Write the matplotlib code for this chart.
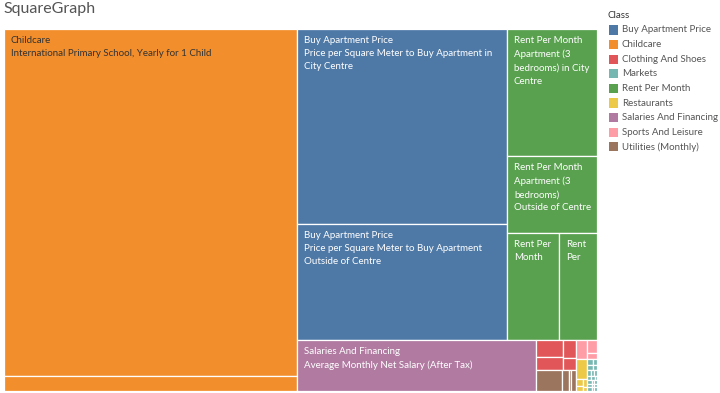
import matplotlib
matplotlib.use("Agg")
import matplotlib.pyplot as plt
from matplotlib.patches import Rectangle

plt.rcParams['font.family'] = ['Lato', 'DejaVu Sans']

W, H = 720, 393  # output size in px

# ---- data (USD-ish) ----
classes = ["Buy Apartment Price", "Childcare", "Clothing And Shoes", "Markets",
           "Rent Per Month", "Restaurants", "Salaries And Financing",
           "Sports And Leisure", "Utilities (Monthly)"]
class_colors = ["#4e79a7", "#f28e2b", "#e15759", "#76b7b2", "#59a14f",
                "#edc948", "#b07aa1", "#ff9da7", "#9c755f"]

childcare_items = ["International Primary School, Yearly for 1 Child",
                   "Preschool (or Kindergarten), Full Day, Private, Monthly for 1 Child"]
childcare_values = [20000, 870]

buy_items = ["Price per Square Meter to Buy Apartment in City Centre",
             "Price per Square Meter to Buy Apartment Outside of Centre"]
buy_values = [8055, 4792]

rent_items = ["Apartment (3 bedrooms) in City Centre",
              "Apartment (3 bedrooms) Outside of Centre",
              "Apartment (1 bedroom) in City Centre",
              "Apartment (1 bedroom) Outside of Centre"]
rent_values = [2248, 1363, 1094, 800]

salary_items = ["Average Monthly Net Salary (After Tax)"]
salary_values = [2388]

clothing_items = ["1 Pair of Men Leather Business Shoes",
                  "1 Pair of Nike Running Shoes (Mid-Range)",
                  "1 Pair of Jeans (Levis 501 Or Similar)",
                  "1 Summer Dress in a Chain Store (Zara, H&M, ...)"]
clothing_values = [91, 69, 46, 29]

utilities_items = ["Basic (Electricity, Heating, Cooling, Water, Garbage) for 85m2 Apartment",
                   "Internet (60 Mbps or More, Unlimited Data, Cable/ADSL)",
                   "1 min. of Prepaid Mobile Tariff Local (No Discounts or Plans)",
                   "Mobile Phone Monthly Plan with Calls and 10GB+ Data"]
utilities_values = [110, 30, 9, 22]

sports_items = ["Fitness Club, Monthly Fee for 1 Adult",
                "Cinema, International Release, 1 Seat",
                "Tennis Court Rent (1 Hour on Weekend)"]
sports_values = [40, 26, 10]

restaurant_items = ["Meal for 2 People, Mid-range Restaurant, Three-course",
                    "Meal, Inexpensive Restaurant",
                    "McMeal at McDonalds (or Equivalent Combo Meal)",
                    "Imported Beer (0.33 liter bottle)",
                    "Cappuccino (regular)"]
restaurant_values = [46, 9, 7, 6, 4]

market_items = ["Beef Round (1kg)", "Local Cheese (1kg)", "Chicken Fillets (1kg)",
                "Bottle of Wine (Mid-Range)", "Cigarettes 20 Pack (Marlboro)",
                "Apples (1kg)", "Rice (white), (1kg)", "Oranges (1kg)", "Tomato (1kg)",
                "Potato (1kg)", "Banana (1kg)", "Eggs (regular) (12)",
                "Loaf of Fresh White Bread (500g)", "Domestic Beer (0.5 liter bottle)",
                "Imported Beer (0.33 liter bottle)", "Onion (1kg)",
                "Milk (regular), (1 liter)", "Lettuce (1 head)", "Water (1.5 liter bottle)"]
market_values = [7, 5, 6, 4, 4, 3, 3, 3, 3, 2, 3, 2, 2, 3, 2, 2, 3, 2, 2]

values = {
    "Childcare": childcare_values, "Buy Apartment Price": buy_values,
    "Rent Per Month": rent_values, "Salaries And Financing": salary_values,
    "Clothing And Shoes": clothing_values, "Utilities (Monthly)": utilities_values,
    "Sports And Leisure": sports_values, "Restaurants": restaurant_values,
    "Markets": market_values,
}
color_of = dict(zip(classes, class_colors))

# label text as it wraps in the cells (only the big ones get a label)
labels = {
    ("Childcare", 0): "Childcare\nInternational Primary School, Yearly for 1 Child",
    ("Buy Apartment Price", 0): "Buy Apartment Price\nPrice per Square Meter to Buy Apartment in\nCity Centre",
    ("Buy Apartment Price", 1): "Buy Apartment Price\nPrice per Square Meter to Buy Apartment\nOutside of Centre",
    ("Rent Per Month", 0): "Rent Per Month\nApartment (3\nbedrooms) in City\nCentre",
    ("Rent Per Month", 1): "Rent Per Month\nApartment (3\nbedrooms)\nOutside of Centre",
    ("Rent Per Month", 2): "Rent Per\nMonth",
    ("Rent Per Month", 3): "Rent\nPer",
    ("Salaries And Financing", 0): "Salaries And Financing\nAverage Monthly Net Salary (After Tax)",
}
dark_text = {"Childcare"}


# ---- nesting of the treemap (h = side by side, v = stacked) ----
def L(cls, i):
    return ("leaf", cls, i)


def M(*idx):
    return ("h", [L("Markets", i) for i in idx])


clothing_block = ("h", [("v", [L("Clothing And Shoes", 0), L("Clothing And Shoes", 1)]),
                        ("v", [L("Clothing And Shoes", 2), L("Clothing And Shoes", 3)])])
utilities_block = ("h", [L("Utilities (Monthly)", i) for i in range(4)])
sports_block = ("h", [L("Sports And Leisure", 0),
                      ("v", [L("Sports And Leisure", 1), L("Sports And Leisure", 2)])])
restaurant_block = ("v", [L("Restaurants", 0),
                          ("h", [("v", [L("Restaurants", 1), L("Restaurants", 3)]),
                                 ("v", [L("Restaurants", 2), L("Restaurants", 4)])])])
markets_block = ("v", [M(0, 1), M(2, 3), M(4, 5, 6), M(7, 8, 9), M(10, 11, 12),
                       M(13, 14, 15), M(16, 17, 18)])

plan = ("h", [
    ("v", [L("Childcare", 0), L("Childcare", 1)]),
    ("v", [
        ("h", [
            ("v", [L("Buy Apartment Price", 0), L("Buy Apartment Price", 1)]),
            ("v", [L("Rent Per Month", 0), L("Rent Per Month", 1),
                   ("h", [L("Rent Per Month", 2), L("Rent Per Month", 3)])]),
        ]),
        ("h", [
            L("Salaries And Financing", 0),
            ("h", [
                ("v", [clothing_block, utilities_block]),
                ("v", [sports_block, ("h", [restaurant_block, markets_block])]),
            ]),
        ]),
    ]),
])


def node_value(node):
    if node[0] == "leaf":
        return values[node[1]][node[2]]
    return sum(node_value(k) for k in node[1])


def layout(node, x, y, w, h, out):
    if node[0] == "leaf":
        out.append((node[1], node[2], x, y, w, h))
        return
    kids = node[1]
    total = sum(node_value(k) for k in kids)
    for k in kids:
        f = node_value(k) / total
        if node[0] == "h":
            layout(k, x, y, w * f, h, out)
            x += w * f
        else:
            layout(k, x, y, w, h * f, out)
            y += h * f


cells = []
layout(plan, 0.0, 0.0, 1.0, 1.0, cells)

# ---- figure ----
fig = plt.figure(figsize=(W / 100, H / 100), dpi=100)
ax = fig.add_axes([4 / W, 2 / H, 593 / W, 362 / H])
ax.set_xlim(0, 1)
ax.set_ylim(1, 0)
ax.axis("off")

for cls, i, x, y, w, h in cells:
    ax.add_patch(Rectangle((x, y), w, h, facecolor=color_of[cls],
                           edgecolor="white", linewidth=0.9))
    txt = labels.get((cls, i))
    if txt:
        ax.annotate(txt, xy=(x, y), xytext=(5, -5), textcoords="offset points",
                    ha="left", va="top", fontsize=7, linespacing=1.6,
                    color="#333333" if cls in dark_text else "white")

fig.text(3 / W, 1 - 9 / H, "SquareGraph", fontsize=11.5, color="#555555",
         ha="left", va="center")

# legend
fig.text(608 / W, 1 - 15 / H, "Class", fontsize=7, color="#333333",
         ha="left", va="center")
for k, (name, col) in enumerate(zip(classes, class_colors)):
    yc = 30 + k * 14.6
    fig.patches.append(Rectangle((609 / W, 1 - (yc + 4.5) / H), 9 / W, 9 / H,
                                 transform=fig.transFigure, facecolor=col,
                                 edgecolor="none"))
    fig.text(622 / W, 1 - yc / H, name, fontsize=7, color="#555555",
             ha="left", va="center")

fig.savefig("out.png", dpi=100)
